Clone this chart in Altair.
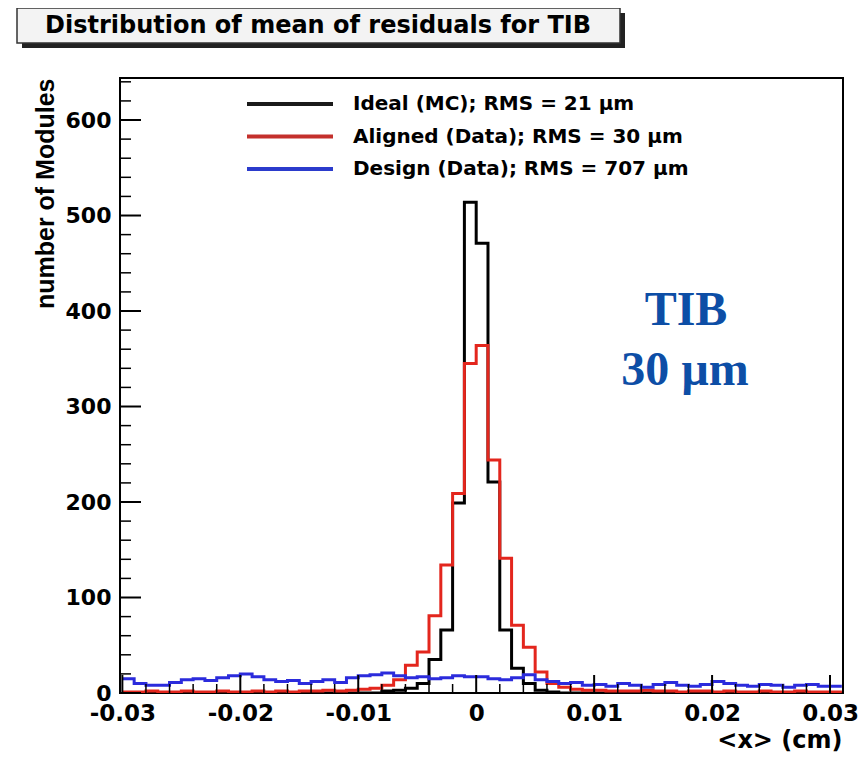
import altair as alt
import pandas as pd
import numpy as np

# ---------------- data ----------------
x_start = -0.030
bin_width = 0.001
n_bins = 61

ideal_mc = [0] * 22 + [2, 3, 5, 10, 35, 66, 199, 514, 471, 221, 66, 26, 10, 3, 1] + [0] * 24

aligned_data = ([1, 1, 2, 1, 1, 2, 1, 1, 2, 1, 1, 2, 1, 2, 1,
                 2, 2, 3, 2, 3, 4, 5, 8,
                 14, 29, 43, 81, 134, 209, 345, 364, 244, 141, 71, 48, 22, 10, 6, 4, 3,
                 3, 2, 2, 2, 3, 2, 2, 1, 2, 2, 1, 2, 1, 1, 2, 1, 1, 2, 1, 1, 1])

design_data = [15, 10, 8, 8, 11, 14, 15, 13, 16, 18, 20, 17, 14, 12, 13, 10, 12, 14, 11, 16,
               18, 19, 21, 18, 16, 17, 15, 16, 18, 17,
               17, 15, 14, 16, 19, 14, 12, 10, 11, 8, 9, 7, 10, 8, 6, 9, 11, 8, 7, 9,
               12, 10, 8, 7, 9, 8, 6, 8, 9, 7, 7]

series_names = ["Ideal (MC); RMS = 21 µm",
                "Aligned (Data); RMS = 30 µm",
                "Design (Data); RMS = 707 µm"]
series_values = [ideal_mc, aligned_data, design_data]
series_colors = ["#000000", "#e3261d", "#2b2bdc"]
legend_colors = ["#1a1a1a", "#c4302c", "#2b3bcc"]

x_ticks_major = [-0.03, -0.02, -0.01, 0.0, 0.01, 0.02, 0.03]
y_ticks_major = [0, 100, 200, 300, 400, 500, 600]

title_text = "Distribution of mean of residuals for TIB"
x_title = "<x> (cm)"
y_title = "number of Modules"
note_lines = ["TIB", "30 µm"]

X_DOMAIN = [-0.0302, 0.0311]
Y_DOMAIN = [0, 644]
W, H = 723, 615

xs = alt.Scale(domain=X_DOMAIN, nice=False, zero=False)
ys = alt.Scale(domain=Y_DOMAIN, nice=False)
axis_x = alt.Axis(title=x_title, values=x_ticks_major,
                  labelExpr="datum.value == 0 ? '0' : (datum.value < 0 ? '-' : '') + format(abs(datum.value), '.2f')")
axis_y = alt.Axis(title=y_title, values=y_ticks_major)

# ---------------- histogram layers ----------------
edges = [round(x_start + bin_width * k, 6) for k in range(n_bins + 1)]
layers = []
for name, vals, col in zip(series_names, series_values, series_colors):
    df = pd.DataFrame({"x": edges, "y": list(vals) + [vals[-1]]})
    layers.append(alt.Chart(df).mark_line(interpolate="step-after", color=col,
                                          strokeWidth=3, clip=True)
                  .encode(x=alt.X("x:Q", scale=xs, axis=axis_x),
                          y=alt.Y("y:Q", scale=ys, axis=axis_y)))

# ---------------- inward ticks (ROOT style) ----------------
y_minor = [v for v in range(0, 641, 20) if v % 100 != 0]
x_minor = [round(v, 4) for v in np.arange(-0.030, 0.0311, 0.002) if abs(round(v * 1000)) % 10 != 0]
tick_layers = [
    alt.Chart(pd.DataFrame({"y": y_ticks_major})).mark_rule(color="black", strokeWidth=2)
    .encode(y=alt.Y("y:Q", scale=ys, axis=axis_y), x=alt.value(0), x2=alt.value(21)),
    alt.Chart(pd.DataFrame({"y": y_minor})).mark_rule(color="black", strokeWidth=1.5)
    .encode(y=alt.Y("y:Q", scale=ys, axis=axis_y), x=alt.value(0), x2=alt.value(11)),
    alt.Chart(pd.DataFrame({"x": x_ticks_major})).mark_rule(color="black", strokeWidth=2)
    .encode(x=alt.X("x:Q", scale=xs, axis=axis_x), y=alt.value(H), y2=alt.value(H - 18)),
    alt.Chart(pd.DataFrame({"x": x_minor})).mark_rule(color="black", strokeWidth=1.5)
    .encode(x=alt.X("x:Q", scale=xs, axis=axis_x), y=alt.value(H), y2=alt.value(H - 9)),
]

# ---------------- legend (drawn) ----------------
legend_layers = []
leg_y = [26, 58.5, 91]
for name, col, yy in zip(series_names, legend_colors, leg_y):
    legend_layers.append(
        alt.Chart(pd.DataFrame({"t": [name]})).mark_rule(color=col, strokeWidth=4)
        .encode(x=alt.value(127), x2=alt.value(213), y=alt.value(yy)))
    legend_layers.append(
        alt.Chart(pd.DataFrame({"t": [name]})).mark_text(
            align="left", baseline="middle", font="DejaVu Sans", fontWeight="bold",
            fontSize=20, color="black")
        .encode(x=alt.value(233), y=alt.value(yy), text="t:N"))

# ---------------- title box ----------------
title_layers = [
    alt.Chart(pd.DataFrame({"t": [title_text]})).mark_rect(color="#222222")
    .encode(x=alt.value(-98), x2=alt.value(505), y=alt.value(-65), y2=alt.value(-30)),
    alt.Chart(pd.DataFrame({"t": [title_text]})).mark_rect(fill="#f3f3f3", stroke="#333333",
                                                          strokeWidth=1.5)
    .encode(x=alt.value(-103), x2=alt.value(500), y=alt.value(-70), y2=alt.value(-35)),
    alt.Chart(pd.DataFrame({"t": [title_text]})).mark_text(
        align="center", baseline="middle", font="DejaVu Sans", fontWeight="bold",
        fontSize=24, color="black")
    .encode(x=alt.value(198), y=alt.value(-52), text="t:N"),
]

# ---------------- annotation ----------------
note_layers = [
    alt.Chart(pd.DataFrame({"t": [note_lines[0]]})).mark_text(
        align="center", baseline="alphabetic", font="Liberation Serif", fontWeight="bold",
        fontSize=48, color="#0d4ea6")
    .encode(x=alt.value(566), y=alt.value(247), text="t:N"),
    alt.Chart(pd.DataFrame({"t": [note_lines[1]]})).mark_text(
        align="center", baseline="alphabetic", font="Liberation Serif", fontWeight="bold",
        fontSize=48, color="#0d4ea6")
    .encode(x=alt.value(565), y=alt.value(307), text="t:N"),
]

chart = alt.layer(*layers, *tick_layers, *legend_layers, *title_layers, *note_layers).properties(
    width=W, height=H,
    autosize=alt.AutoSizeParams(type="none"),
    padding={"left": 112, "top": 70, "right": 15, "bottom": 62},
    background="white",
).configure_view(
    stroke="black", strokeWidth=2
).configure_axis(
    grid=False, domain=False, ticks=False, tickSize=0,
    labelFont="DejaVu Sans", labelFontWeight="bold", labelFontSize=23, labelColor="black",
    titleColor="black",
).configure_axisX(
    labelPadding=9, labelFlush=False, labelOverlap=False,
    titleFont="DejaVu Sans", titleFontWeight="bold", titleFontSize=24,
    titleAlign="right", titleBaseline="alphabetic", titleAngle=0,
    titleX=722, titleY=54,
).configure_axisY(
    labelPadding=9, labelFlush=False, labelOverlap=False, labelBaseline="middle",
    labelFontSize=22,
    titleFont="Liberation Sans", titleFontWeight="bold", titleFontSize=25,
    titleAlign="right", titleBaseline="alphabetic", titleAngle=270,
    titleX=-67, titleY=0,
)

chart.save("out.html", embed_options={"renderer": "svg", "actions": False})
